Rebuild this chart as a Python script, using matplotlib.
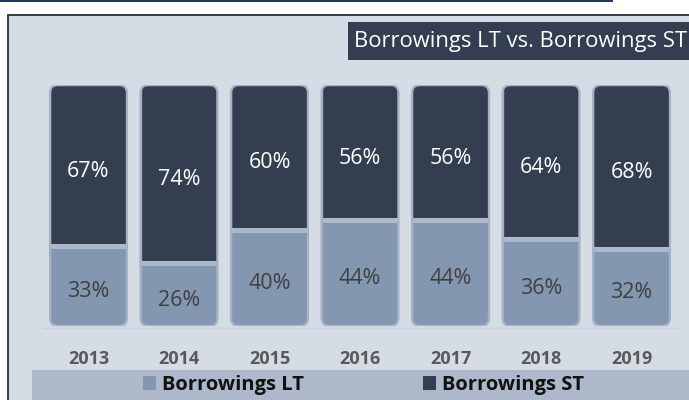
import matplotlib
matplotlib.use("Agg")
import matplotlib.pyplot as plt
from matplotlib.patches import FancyBboxPatch, Rectangle, Patch

# ---- data ----
years = ["2013", "2014", "2015", "2016", "2017", "2018", "2019"]
borrowings_lt = [33, 26, 40, 44, 44, 36, 32]
borrowings_st = [67, 74, 60, 56, 56, 64, 68]
series_names = ["Borrowings LT", "Borrowings ST"]
title = "Borrowings LT vs. Borrowings ST"

# ---- style ----
C_LT = "#8497b0"
C_ST = "#333f50"
C_BG = "#d6dce5"
C_BAND = "#adb9ca"
C_NAVY = "#1f3864"
FONT = ["Open Sans", "DejaVu Sans"]

W, H = 689, 400
fig = plt.figure(figsize=(W / 100, H / 100), dpi=100)
fig.patch.set_facecolor("white")


def fx(px):
    return px / W


def fy(py):
    return 1 - py / H


# top navy rule
fig.patches.append(Rectangle((0, fy(2)), fx(613), 2 / H, transform=fig.transFigure,
                             facecolor=C_NAVY, edgecolor="none", zorder=-3))
# chart frame
fig.patches.append(Rectangle((fx(8), fy(430)), fx(720), 415 / H, transform=fig.transFigure,
                             facecolor=C_BG, edgecolor="#2b2f36", linewidth=1.3, zorder=-3))
# title box
fig.patches.append(Rectangle((fx(348), fy(60)), fx(360), 38 / H, transform=fig.transFigure,
                             facecolor=C_ST, edgecolor="none", zorder=-2))
fig.text(fx(354), fy(41), title, color="white", fontsize=15.8, family=FONT,
         ha="left", va="center", zorder=2)
# legend band
fig.patches.append(Rectangle((fx(32), fy(400)), fx(680), 30 / H, transform=fig.transFigure,
                             facecolor=C_BAND, edgecolor="none", zorder=-2))

# ---- bars ----
left_px, right_px = 43.25, 676.75
bot_px, top_px = 326, 85
ax = fig.add_axes([fx(left_px), fy(bot_px), (right_px - left_px) / W, (bot_px - top_px) / H])
ax.set_zorder(1)
ax.set_xlim(-0.5, len(years) - 0.5)
ax.set_ylim(0, 1)
ax.axis("off")
ax.patch.set_alpha(0)

px_per_x = (right_px - left_px) / len(years)
px_per_y = (bot_px - top_px)
bw = 0.85
r = 8 / px_per_x
asp = px_per_x / px_per_y

x = list(range(len(years)))
lt = [v / 100 for v in borrowings_lt]
st = [v / 100 for v in borrowings_st]

# baseline
ax.axhline(-0.008, xmin=0, xmax=1, color="#c9d0da", lw=1.0, clip_on=False)

bars_lt = ax.bar(x, lt, bw, color=C_LT, edgecolor="#9aa8bb", linewidth=1.0, zorder=2)
bars_st = ax.bar(x, st, bw, bottom=lt, color=C_ST, edgecolor="#9aa8bb", linewidth=1.0, zorder=2)

for i in x:
    clip = FancyBboxPatch((i - bw / 2, 0), bw, 1,
                          boxstyle=f"round,pad=0,rounding_size={r}",
                          mutation_aspect=asp, transform=ax.transData,
                          facecolor="none", edgecolor="#a7b3c5", linewidth=1.6, zorder=4)
    ax.add_patch(clip)
    bars_lt[i].set_clip_path(clip)
    bars_st[i].set_clip_path(clip)
    sep = ax.plot([i - bw / 2, i + bw / 2], [lt[i], lt[i]], color=C_BAND, lw=3.6,
                  solid_capstyle="butt", zorder=3)[0]
    sep.set_clip_path(clip)
    ax.annotate(f"{borrowings_lt[i]}%", (i, lt[i] / 2), xytext=(0, -4),
                textcoords="offset points", ha="center", va="center",
                color="#404040", fontsize=15.5, family=FONT, zorder=5)
    ax.annotate(f"{borrowings_st[i]}%", (i, lt[i] + st[i] / 2), xytext=(0, -4),
                textcoords="offset points", ha="center", va="center",
                color="white", fontsize=15.5, family=FONT, zorder=5)
    ax.text(i, -(359 - bot_px) / px_per_y, years[i], ha="center", va="center",
            color="#595959", fontsize=13, fontweight="bold", family=FONT, clip_on=False)

# legend
handles = [Patch(facecolor=C_LT, edgecolor="none"), Patch(facecolor=C_ST, edgecolor="none")]
fig.legend(handles, series_names, loc="center left", bbox_to_anchor=(fx(143), fy(385)),
           ncol=2, frameon=False, borderpad=0, borderaxespad=0,
           handlelength=0.65, handleheight=0.65, handletextpad=0.3, columnspacing=5.9,
           prop={"family": FONT, "weight": "bold", "size": 14.5}, labelcolor="#111111")

fig.savefig("out.png", dpi=100)
